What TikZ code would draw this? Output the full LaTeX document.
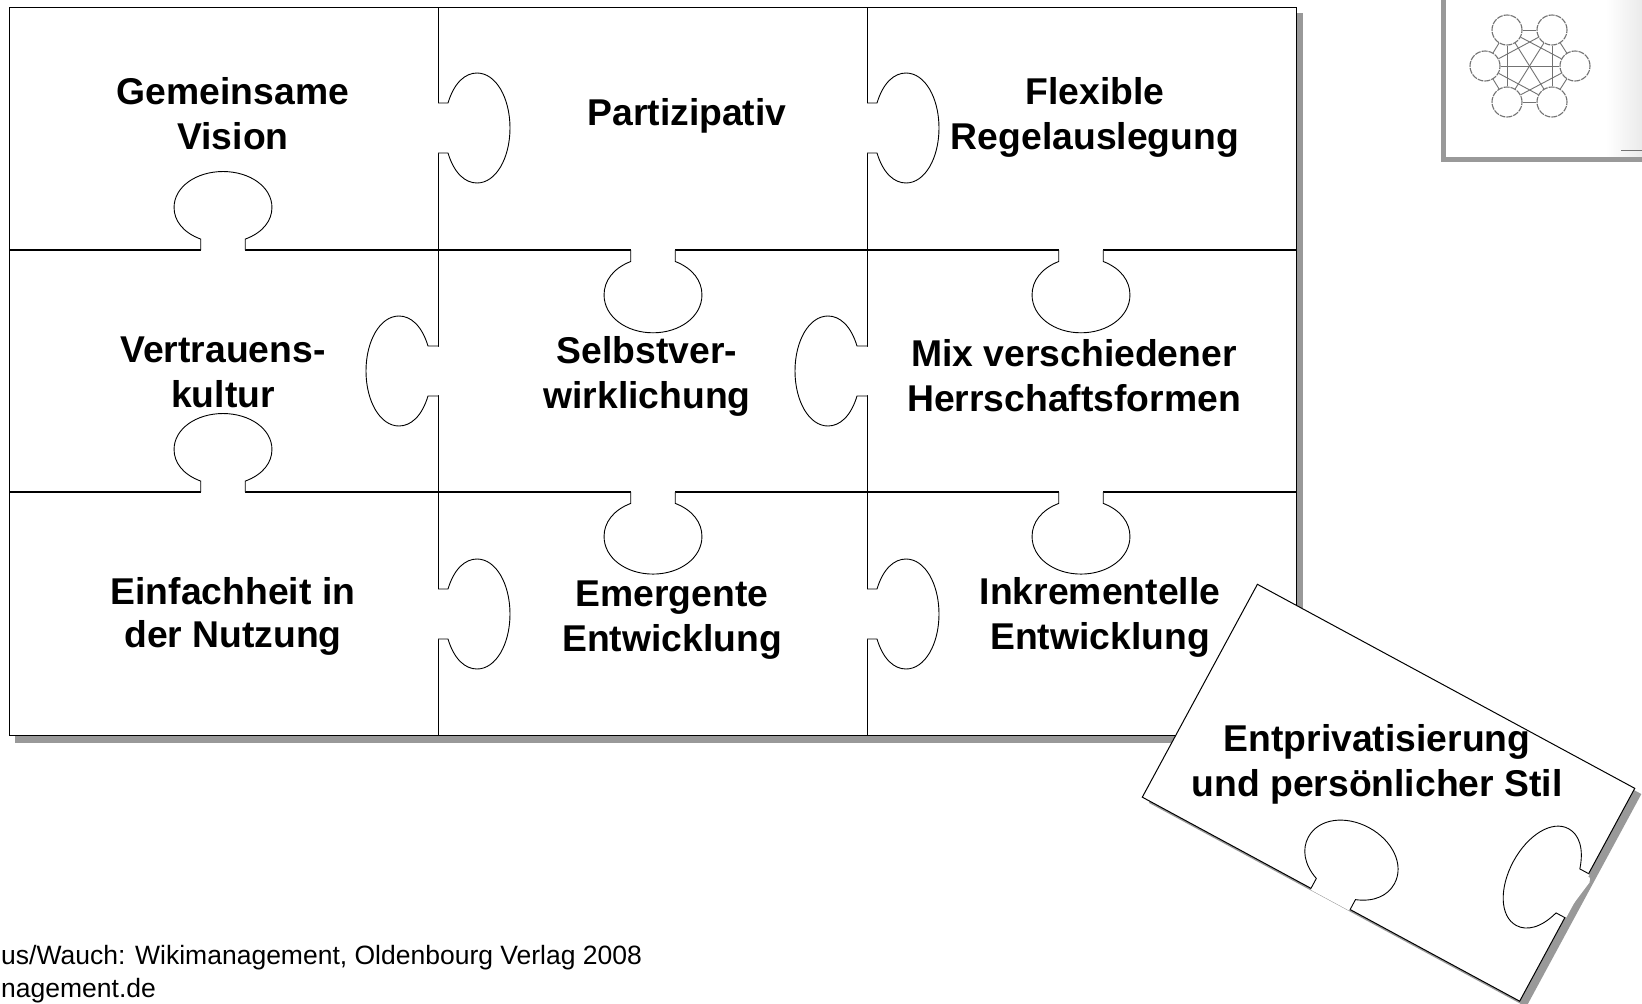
\documentclass[tikz,border=0pt]{standalone}
\usepackage{fontspec}
\setmainfont{Liberation Sans}
\definecolor{shadowgray}{gray}{0.6}
\tikzset{
	piecelabel/.style={font=\fontsize{37.3}{45}\selectfont\bfseries,align=center,inner sep=0pt},
	sourcelabel/.style={font=\fontsize{26.5}{30}\selectfont,anchor=west,inner sep=0pt},
	teamcircle/.style={circle,draw=black!55,line width=1.1pt,dash pattern=on 6pt off 1pt,minimum size=30pt,inner sep=0pt},
	teamlink/.style={draw=black!55,line width=0.9pt},
	wideknob/.style={xscale=#1,yscale=0.89},
	knob/.pic={
		\fill[white] (-1.2,-24.4) rectangle (1.2,24.4);
		\draw[black,line width=0.9pt,fill=white] (0,-25) -- (10,-25) .. controls (16,-45) and (27,-55) .. (39,-55) .. controls (58,-55) and (72,-30) .. (72,0) .. controls (72,30) and (58,55) .. (39,55) .. controls (27,55) and (16,45) .. (10,25) -- (0,25);
	}
}
\begin{document}
\begin{tikzpicture}[x=1pt,y=-1pt]
	\useasboundingbox (0,0) rectangle (1642,1004);
	\fill[white] (0,0) rectangle (1642,1004);

	% board
	\fill[shadowgray] (15,13) rectangle (1303,743);
	\draw[black,fill=white,line width=1pt] (9,7.5) rectangle (1296.5,735);
	\draw[black,line width=1pt] (438,7.5) -- (438,735);
	\draw[black,line width=1pt] (867,7.5) -- (867,735);
	\draw[black,line width=1.2pt] (9,250) -- (1296.5,250);
	\draw[black,line width=1.2pt] (9,492) -- (1296.5,492);

	% tabs of the board
	\pic at (438,128) {knob};
	\pic at (867,128) {knob};
	\pic at (438,614) {knob};
	\pic at (867,614) {knob};
	\pic[rotate=180] at (438,371) {knob};
	\pic[rotate=180] at (867,371) {knob};
	\pic[rotate=90,wideknob=1.09] at (223,250) {knob};
	\pic[rotate=90,wideknob=1.09] at (223,492) {knob};
	\pic[rotate=-90,wideknob=1.15] at (653,250) {knob};
	\pic[rotate=-90,wideknob=1.15] at (1081,250) {knob};
	\pic[rotate=-90,wideknob=1.14] at (653,492) {knob};
	\pic[rotate=-90,wideknob=1.14] at (1081,492) {knob};

	\node[piecelabel] (vision) at (233,113.5) {Gemeinsame\\Vision};
	\node[piecelabel] (partizipativ) at (687,116) {Partizipativ};
	\node[piecelabel] (regeln) at (1095,117) {Flexible\\Regelauslegung};
	\node[piecelabel] (kultur) at (223,372.5) {Vertrauens-\\kultur};
	\node[piecelabel] (selbst) at (647,376.5) {Selbstver-\\wirklichung};
	\node[piecelabel] (mix) at (1074,375.5) {Mix verschiedener\\Herrschaftsformen};
	\node[piecelabel] (nutzung) at (233,616) {Einfachheit in\\[-2pt]der Nutzung};
	\node[piecelabel] (emergent) at (672,620) {Emergente\\Entwicklung};
	\node[piecelabel] (inkrement) at (1100,617) {Inkrementelle\\Entwicklung};

	% small picture top right
	\shade[left color=white,right color=black!8] (1606,0) rectangle (1642,157);
	\draw[shadowgray,line width=4.5pt] (1443.5,-3) -- (1443.5,159.5) -- (1645,159.5);
	\draw[black!55,line width=1pt] (1621,150) -- (1642,150);
	\node[teamcircle] (teamA) at (1507,30) {};
	\node[teamcircle] (teamB) at (1552,30) {};
	\node[teamcircle] (teamC) at (1485,66) {};
	\node[teamcircle] (teamD) at (1575,66) {};
	\node[teamcircle] (teamE) at (1507,102) {};
	\node[teamcircle] (teamF) at (1552,102) {};
	\foreach \from/\to in {teamA/teamB,teamA/teamC,teamA/teamD,teamA/teamE,teamA/teamF,teamB/teamC,teamB/teamD,teamB/teamE,teamB/teamF,teamC/teamD,teamC/teamE,teamC/teamF,teamD/teamE,teamD/teamF,teamE/teamF}
		\draw[teamlink] (\from) -- (\to);

	% loose piece
	\begin{scope}[shift={(1264,590)},rotate=-28.4]
		\fill[shadowgray] (0,0) rectangle (429,242);
	\end{scope}
	\begin{scope}[shift={(1257.4,584.3)},rotate=-28.4]
		\draw[black,line width=1pt,fill=white] (0,0) rectangle (429,242);
		\fill[white] (428,100) -- (432,100) -- (434,104) -- (428,144) -- cycle;
		\pic[transform shape,rotate=90,wideknob=1.125] at (214,242) {knob};
		\pic[transform shape,rotate=180] at (429,122) {knob};
	\end{scope}
	\node[piecelabel] (stil) at (1377,764.5) {Entprivatisierung\\und persönlicher Stil};

	% source lines
	\node[sourcelabel] (quelle) at (1,958) {us/Wauch: Wikimanagement, Oldenbourg Verlag 2008};
	\node[sourcelabel] (web) at (1,991) {nagement.de};
\end{tikzpicture}
\end{document}
